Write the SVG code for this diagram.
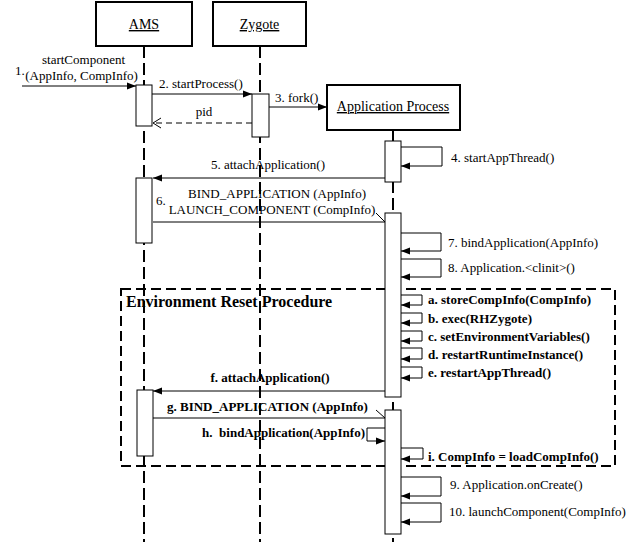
<svg xmlns="http://www.w3.org/2000/svg" width="642" height="542" viewBox="0 0 642 542">
<style>
text{font-family:"Liberation Serif","Times New Roman",serif;font-size:13px;fill:#000}
.head{font-size:14px;text-decoration:underline}
.b{font-weight:bold}
.title{font-weight:bold;font-size:16px}
.mid{text-anchor:middle}
.hbox{fill:#fff;stroke:#000;stroke-width:2}
.act{fill:#fff;stroke:#000;stroke-width:1}
.life{stroke:#000;stroke-width:2;stroke-dasharray:12 5;fill:none}
.msg{stroke:#000;stroke-width:1;fill:none}
.frame{fill:none;stroke:#000;stroke-width:2;stroke-dasharray:10 5}
</style>
<defs>
<marker id="ah" markerUnits="userSpaceOnUse" markerWidth="10" markerHeight="8" refX="9" refY="4" orient="auto">
<path d="M0,0.5 L9,4 L0,7.5 z" fill="#000"/>
</marker>
</defs>
<g id="lifelines">
<line class="life" x1="144" y1="46" x2="144" y2="542"/>
<line class="life" x1="260" y1="46" x2="260" y2="542"/>
<line class="life" x1="393" y1="130" x2="393" y2="542"/>
</g>
<g id="frame">
<rect class="frame" x="121" y="289" width="494" height="177"/>
<text class="title" x="126" y="307">Environment Reset Procedure</text>
</g>
<g id="AMS">
<rect class="hbox" x="96" y="2" width="96" height="44"/>
<text class="head mid" x="144" y="29">AMS</text>
<rect class="act" x="136" y="85" width="16" height="41"/>
<rect class="act" x="136" y="178" width="16" height="65"/>
<rect class="act" x="137" y="390" width="16" height="66"/>
</g>
<g id="Zygote">
<rect class="hbox" x="213" y="2" width="93" height="44"/>
<text class="head mid" x="259.5" y="29">Zygote</text>
<rect class="act" x="252" y="94" width="17" height="43"/>
</g>
<g id="AppProcess">
<rect class="hbox" x="327" y="85" width="133" height="45"/>
<text class="head mid" x="393" y="111">Application Process</text>
<rect class="act" x="385" y="141" width="16" height="41"/>
<rect class="act" x="385" y="213" width="16" height="184"/>
<rect class="act" x="385" y="410" width="16" height="124"/>
</g>
<g id="connectors">
<line class="msg" x1="22" y1="86" x2="136" y2="86" marker-end="url(#ah)"/>
<line class="msg" x1="152" y1="94" x2="252" y2="94" marker-end="url(#ah)"/>
<line class="msg" x1="269" y1="107" x2="327" y2="107" marker-end="url(#ah)"/>
<line class="msg" x1="252" y1="123" x2="154" y2="123" stroke-dasharray="6 4"/>
<polyline class="msg" points="161,118 153,123 161,128"/>
<path class="msg" d="M401,147 H442 V166 H401" marker-end="url(#ah)"/>
<line class="msg" x1="385" y1="178" x2="153" y2="178" marker-end="url(#ah)"/>
<line class="msg" x1="153" y1="222" x2="385" y2="222"/>
<line class="msg" x1="376" y1="213" x2="385" y2="222"/>
<path class="msg" d="M401,233 H441 V251 H401" marker-end="url(#ah)"/>
<path class="msg" d="M401,259 H441 V277 H401" marker-end="url(#ah)"/>
<path class="msg" d="M401,295 H422 V305 H401" marker-end="url(#ah)"/>
<path class="msg" d="M401,313 H422 V323 H401" marker-end="url(#ah)"/>
<path class="msg" d="M401,331 H422 V341 H401" marker-end="url(#ah)"/>
<path class="msg" d="M401,348 H422 V359 H401" marker-end="url(#ah)"/>
<path class="msg" d="M401,367 H422 V378 H401" marker-end="url(#ah)"/>
<line class="msg" x1="385" y1="391" x2="153" y2="391" marker-end="url(#ah)"/>
<line class="msg" x1="153" y1="418" x2="385" y2="418"/>
<line class="msg" x1="376" y1="410" x2="385" y2="418"/>
<path class="msg" d="M385,428 H367 V441 H385" marker-end="url(#ah)"/>
<path class="msg" d="M401,448 H423 V459 H401" marker-end="url(#ah)"/>
<path class="msg" d="M401,477 H441 V496 H401" marker-end="url(#ah)"/>
<path class="msg" d="M401,503 H441 V522 H401" marker-end="url(#ah)"/>
</g>
<g id="labels">
<text x="15" y="75">1.</text>
<text class="mid" x="83.5" y="64">startComponent</text>
<text class="mid" x="81.5" y="80">(AppInfo, CompInfo)</text>
<text x="159" y="88">2. startProcess()</text>
<text x="275" y="102">3. fork()</text>
<text class="mid" x="204" y="116">pid</text>
<text x="451" y="162">4. startAppThread()</text>
<text class="mid" x="268" y="169">5. attachApplication()</text>
<text x="156" y="205">6.</text>
<text class="mid" x="277" y="198">BIND_APPLICATION (AppInfo)</text>
<text class="mid" x="272" y="214">LAUNCH_COMPONENT (CompInfo)</text>
<text x="448" y="247">7. bindApplication(AppInfo)</text>
<text x="448" y="272">8. Application.&lt;clinit&gt;()</text>
<text class="b" x="428" y="304">a. storeCompInfo(CompInfo)</text>
<text class="b" x="428" y="323">b. exec(RHZygote)</text>
<text class="b" x="428" y="341">c. setEnvironmentVariables()</text>
<text class="b" x="428" y="359">d. restartRuntimeInstance()</text>
<text class="b" x="428" y="377">e. restartAppThread()</text>
<text class="b mid" x="270" y="382">f. attachApplication()</text>
<text class="b" x="167" y="411">g. BIND_APPLICATION (AppInfo)</text>
<text class="b" x="365" y="437" text-anchor="end" style="white-space:pre">h.  bindApplication(AppInfo)</text>
<text class="b" x="428" y="461">i. CompInfo = loadCompInfo()</text>
<text x="450" y="489">9. Application.onCreate()</text>
<text x="449" y="516">10. launchComponent(CompInfo)</text>
</g>
</svg>
